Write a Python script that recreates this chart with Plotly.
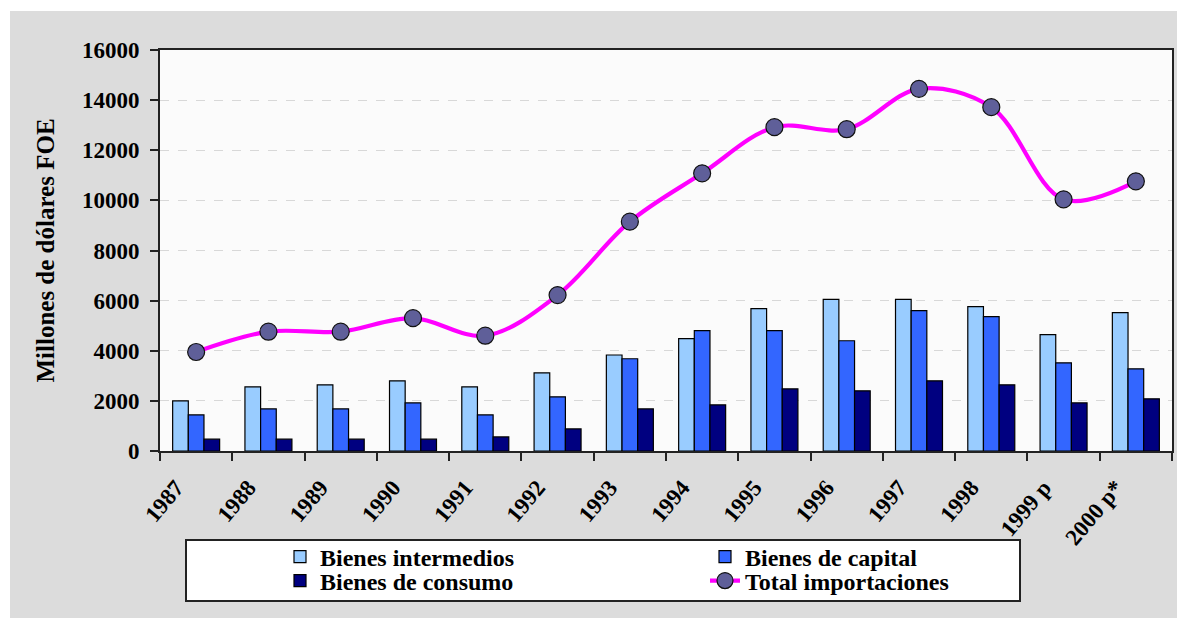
import plotly.graph_objects as go

years = ["1987", "1988", "1989", "1990", "1991", "1992", "1993", "1994",
         "1995", "1996", "1997", "1998", "1999 p", "2000 p*"]
intermedios = [2000, 2560, 2640, 2800, 2560, 3120, 3830, 4480, 5680, 6050, 6050, 5760, 4640, 5520]
capital = [1440, 1680, 1680, 1920, 1440, 2160, 3680, 4800, 4800, 4400, 5600, 5360, 3520, 3280]
consumo = [470, 470, 470, 470, 560, 880, 1680, 1840, 2480, 2400, 2800, 2640, 1920, 2080]
total = [3950, 4760, 4760, 5300, 4600, 6220, 9150, 11080, 12920, 12840, 14450, 13720, 10040, 10760]

FONT = "Liberation Serif"
W, H = 1177, 618
ML, MR, MT, MB = 160, 5, 50, 618 - 451
PW = W - ML - MR
PH = H - MT - MB


def px_x(p):
    """page pixel x -> paper coordinate"""
    return (p - ML) / PW


def px_y(p):
    """page pixel y -> paper coordinate"""
    return (H - MB - p) / PH


fig = go.Figure()
bar_line = dict(color="black", width=1.2)
fig.add_trace(go.Bar(x=years, y=intermedios, name="Bienes intermedios",
                     marker=dict(color="#99ccff", line=bar_line), legend="legend"))
fig.add_trace(go.Bar(x=years, y=capital, name="Bienes de capital",
                     marker=dict(color="#3366ff", line=bar_line), legend="legend"))
fig.add_trace(go.Bar(x=years, y=consumo, name="Bienes de consumo",
                     marker=dict(color="#000080", line=bar_line), legend="legend2"))
fig.add_trace(go.Scatter(x=years, y=total, name="Total importaciones",
                         mode="lines+markers", legend="legend2",
                         line=dict(color="#ff00ff", width=4.2, shape="spline", smoothing=1),
                         marker=dict(symbol="circle", size=17, color="#5f5f99",
                                     line=dict(color="#111111", width=1.2))))

tickfont = dict(family=FONT, size=23, color="black", weight="bold")
legfont = dict(family=FONT, size=24, color="black", weight="bold")
leg_common = dict(orientation="h", xref="paper", yref="paper",
                  x=px_x(280), xanchor="left", yanchor="middle",
                  bgcolor="rgba(0,0,0,0)", borderwidth=0,
                  entrywidth=380, entrywidthmode="pixels",
                  font=legfont, traceorder="normal")

fig.update_layout(
    width=W, height=H,
    margin=dict(l=ML, r=MR, t=MT, b=MB, autoexpand=False),
    paper_bgcolor="#dcdcdc",
    plot_bgcolor="#fbfbfb",
    barmode="group", bargap=0.35, bargroupgap=0,
    font=dict(family=FONT, color="black"),
    showlegend=True,
    legend=dict(leg_common, y=px_y(557)),
    legend2=dict(leg_common, y=px_y(581)),
    xaxis=dict(type="category", range=[-0.5, len(years) - 0.5],
               tickson="boundaries", ticks="outside", ticklen=8,
               tickwidth=2, tickcolor="#222222", tickangle=-50,
               tickfont=tickfont, ticklabelstandoff=12, ticklabelshift=-20,
               showline=True, linecolor="#222222", linewidth=2, mirror=True,
               showgrid=False),
    yaxis=dict(range=[0, 16000], dtick=2000, tickformat="d", ticks="outside", ticklen=8,
               tickwidth=2, tickcolor="#222222", tickfont=tickfont, ticklabelstandoff=6,
               showline=True, linecolor="#222222", linewidth=2, mirror=True,
               showgrid=True, gridcolor="#d8d8d8", griddash="dash", gridwidth=1.3,
               zeroline=False,
               title=dict(text="Millones de dólares FOE", standoff=20,
                          font=dict(family=FONT, size=25, color="black", weight="bold"))),
    shapes=[
        # white outer border strips (top and left)
        dict(type="rect", xref="paper", yref="paper", layer="below",
             x0=px_x(-2), x1=px_x(W + 2), y0=px_y(11), y1=px_y(-2),
             fillcolor="white", line=dict(width=0)),
        dict(type="rect", xref="paper", yref="paper", layer="below",
             x0=px_x(-2), x1=px_x(10), y0=px_y(H + 2), y1=px_y(-2),
             fillcolor="white", line=dict(width=0)),
        # legend frame
        dict(type="rect", xref="paper", yref="paper", layer="below",
             x0=px_x(186), x1=px_x(1020), y0=px_y(601), y1=px_y(540),
             fillcolor="white", line=dict(color="#222222", width=2)),
    ],
)

fig.write_html(
    "out.html",
    config={"displayModeBar": False},
    post_script="document.body.style.margin='0';"
                "document.body.style.overflow='hidden';"
                "document.documentElement.style.overflow='hidden';",
)
